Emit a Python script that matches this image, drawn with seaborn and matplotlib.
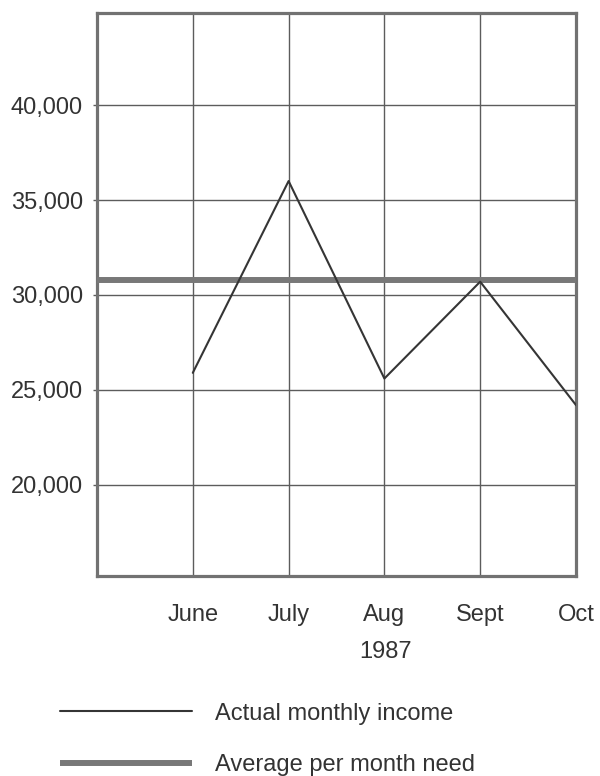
import matplotlib
matplotlib.use("Agg")
import matplotlib.pyplot as plt
import seaborn as sns
import pandas as pd
from matplotlib.ticker import FuncFormatter

# ---- data ----
months = ["June", "July", "Aug", "Sept", "Oct"]
month_pos = [1, 2, 3, 4, 5]
actual_income = [25900, 36000, 25600, 30700, 24200]
avg_need = 30800
y_ticks = [20000, 25000, 30000, 35000, 40000]
year_label = "1987"
legend_labels = ["Actual monthly income", "Average per month need"]

sns.set_theme(style="white")
plt.rcParams["font.family"] = ["Liberation Sans", "DejaVu Sans"]

TXT = "#333333"
GRID = "#5c5c5c"
BORDER = "#727272"

fig = plt.figure(figsize=(6.0, 7.76), dpi=100)
ax = fig.add_axes([97 / 600, 1 - 576 / 776, (576 - 97) / 600, (576 - 13) / 776])

df = pd.DataFrame({"pos": month_pos, "income": actual_income})
sns.lineplot(data=df, x="pos", y="income", ax=ax, color="#353535",
             linewidth=1.5, label=legend_labels[0], zorder=4)
ax.axhline(avg_need, color="#787878", linewidth=4.3, zorder=3,
           solid_capstyle="butt", label=legend_labels[1])

ax.set_xlim(0, 5)
ax.set_ylim(15200, 44850)
ax.set_xticks(month_pos)
ax.set_xticklabels(months)
ax.set_yticks(y_ticks)
ax.yaxis.set_major_formatter(FuncFormatter(lambda v, p: f"{int(v):,}"))

ax.grid(True, color=GRID, linewidth=1.0, zorder=1)
ax.set_axisbelow(True)
for s in ax.spines.values():
    s.set_visible(True)
    s.set_color(BORDER)
    s.set_linewidth(2.3)

ax.tick_params(axis="x", length=0, pad=20, labelsize=17, labelcolor=TXT)
ax.tick_params(axis="y", length=3, width=1.0, color=GRID, pad=7,
               labelsize=17, labelcolor=TXT, left=True)

ax.set_xlabel(year_label, fontsize=17, color=TXT)
ax.xaxis.label.set_va("center")
ax.xaxis.set_label_coords(0.603, (576 - 652) / 563)
ax.set_ylabel("")

handles, labels = ax.get_legend_handles_labels()
leg = ax.legend(handles, labels, loc="center left",
                bbox_to_anchor=(60 / 600, 1 - 739.5 / 776),
                bbox_transform=fig.transFigure, frameon=False,
                fontsize=17, handlelength=5.6, handletextpad=0.95,
                labelspacing=1.25, borderpad=0, borderaxespad=0)
for t in leg.get_texts():
    t.set_color(TXT)

fig.savefig("out.png", dpi=100)
